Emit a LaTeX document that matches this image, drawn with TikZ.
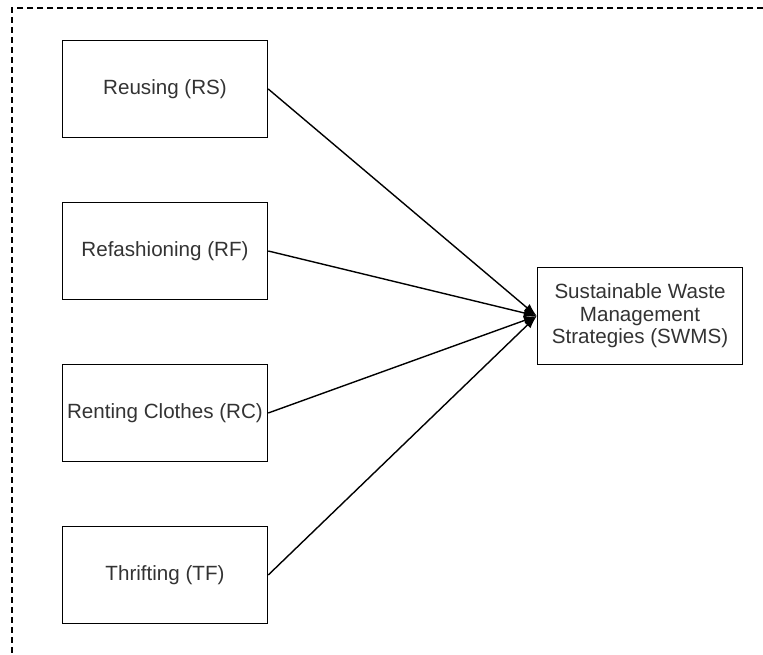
\documentclass[tikz,border=0pt]{standalone}
\usepackage{fontspec}
\setmainfont{Liberation Sans}
\usepackage{tikz}
\usetikzlibrary{shapes,arrows,arrows.meta}
\definecolor{txtgrey}{HTML}{333333}
\tikzstyle{block} = [rectangle, draw, line width=1.5pt, text=txtgrey,
minimum width=205pt, minimum height=97pt, text centered, align=center,
font=\fontsize{20.6}{22.5}\selectfont]
\tikzstyle{line} = [draw, line width=1.4pt, -{Latex[length=13pt, width=9pt]}]
\tikzstyle{frame} = [draw, line width=1.4pt, dash pattern=on 6pt off 4pt]

\begin{document}
\begin{tikzpicture}[x=1pt, y=1pt, node distance = 162pt]
\useasboundingbox (0,0) rectangle (763,655);
% Frame
\path [frame] (763,647) -- (12,647) -- (12,0);
% Place nodes
\node [block] (reuse) at (165,566) {Reusing (RS)};
\node [block, below of=reuse] (refash) {Refashioning (RF)};
\node [block, below of=refash] (rent) {Renting Clothes (RC)};
\node [block, below of=rent] (thrift) {Thrifting (TF)};
\node [block] (swms) at (640,339) {Sustainable Waste\\Management\\Strategies (SWMS)};
% Draw edges
\path [line] (reuse.east) -- (swms.west);
\path [line] (refash.east) -- (swms.west);
\path [line] (rent.east) -- (swms.west);
\path [line] (thrift.east) -- (swms.west);
\end{tikzpicture}
\end{document}
